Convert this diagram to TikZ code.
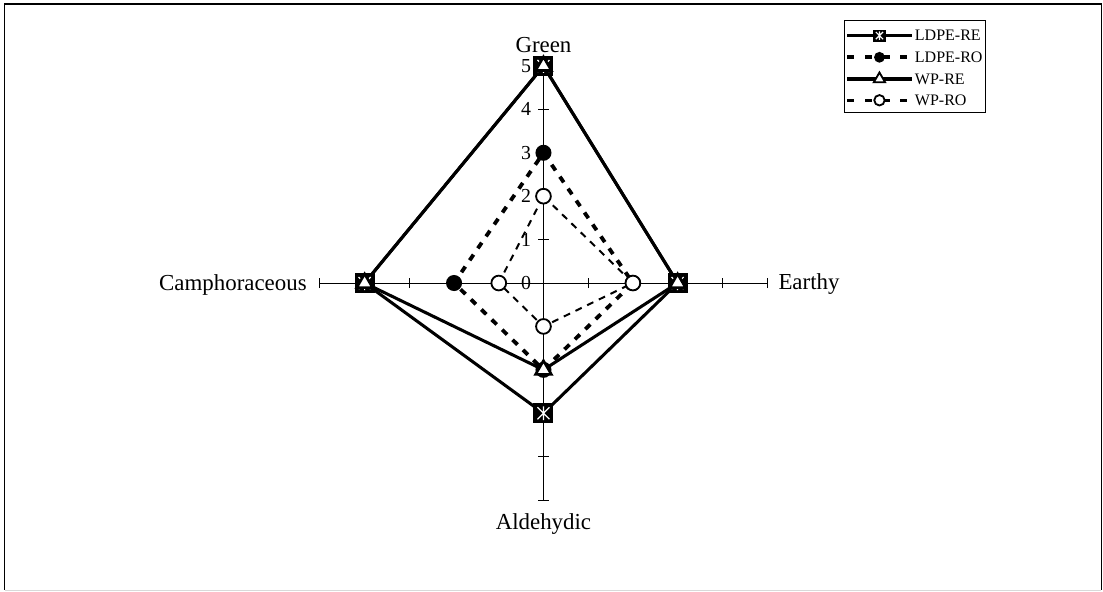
\documentclass[tikz,border=0pt]{standalone}
\usepackage{fontspec}
\setmainfont{Liberation Serif}
\usetikzlibrary{shapes.geometric,calc,positioning}

\begin{document}
\begin{tikzpicture}[
    axis/.style={line width=0.6pt},
    re/.style={line width=2pt},
    ldro/.style={line width=2.5pt, dash pattern=on 4.5pt off 5pt},
    wpro/.style={line width=1.3pt, dash pattern=on 4.5pt off 4pt},
    lab/.style={inner sep=0pt, font=\fontsize{15}{17}\selectfont},
    num/.style={inner sep=0pt, font=\fontsize{13}{15}\selectfont},
    leg/.style={inner sep=0pt, font=\fontsize{10.5}{12}\selectfont},
    sqmark/.style={rectangle, fill=black, inner sep=0pt, minimum size=#1,
        path picture={
            \draw[white, line width=0.8pt]
              ($(path picture bounding box.south west)!0.2!(path picture bounding box.north east)$) --
              ($(path picture bounding box.south west)!0.8!(path picture bounding box.north east)$)
              ($(path picture bounding box.north west)!0.2!(path picture bounding box.south east)$) --
              ($(path picture bounding box.north west)!0.8!(path picture bounding box.south east)$)
              ($(path picture bounding box.south)!0.15!(path picture bounding box.north)$) --
              ($(path picture bounding box.south)!0.85!(path picture bounding box.north)$);
        }},
    sqmark/.default=0.46cm,
    dotmark/.style={circle, fill=black, inner sep=0pt, minimum size=#1},
    dotmark/.default=0.37cm,
    trimark/.style={regular polygon, regular polygon sides=3, draw, fill=white,
        line width=1.7pt, inner sep=0pt, minimum size=#1},
    trimark/.default=0.42cm,
    ringmark/.style={circle, draw, fill=white, line width=1.2pt, inner sep=0pt, minimum size=#1},
    ringmark/.default=0.34cm
]
    \useasboundingbox (-12.52,-7.097) rectangle (12.89,6.52);

    % Frame
    \draw[line width=0.8pt] (-12.41,-7.07) -- (-12.41,6.43) -- (12.85,6.43) -- (12.85,-7.07);
    \draw[gray!30] (-12.41,-7.07) -- (12.85,-7.07);

    \begin{scope}[x=1.03cm]
    % Axes and ticks
    \draw[axis] (-5,0) -- (5,0);
    \draw[axis] (0,-5) -- (0,5);
    \foreach \i in {1,...,5} {
        \draw[axis] (\i,-0.12) -- (\i,0.12);
        \draw[axis] (-\i,-0.12) -- (-\i,0.12);
        \draw[axis] (-0.12,\i) -- (0.12,\i);
        \draw[axis] (-0.12,-\i) -- (0.12,-\i);
    }
    \foreach \i in {0,...,5}
        \node[num, anchor=east] (n\i) at (-0.27,\i) {\i};

    % Axis labels
    \node[lab, anchor=base] (green) at (0,5.30) {Green};
    \node[lab, anchor=base west] (earthy) at (5.25,-0.14) {Earthy};
    \node[lab, anchor=base] (aldehydic) at (0,-5.67) {Aldehydic};
    \node[lab, anchor=base east] (camph) at (-5.29,-0.18) {Camphoraceous};

    % Data points
    \coordinate (ldre-g) at (0,5);  \coordinate (ldre-e) at (3,0);
    \coordinate (ldre-a) at (0,-3); \coordinate (ldre-c) at (-4,0);
    \coordinate (ldro-g) at (0,3);  \coordinate (ldro-e) at (2,0);
    \coordinate (ldro-a) at (0,-2); \coordinate (ldro-c) at (-2,0);
    \coordinate (wpre-g) at (0,5);  \coordinate (wpre-e) at (3,0);
    \coordinate (wpre-a) at (0,-2); \coordinate (wpre-c) at (-4,0);
    \coordinate (wpro-g) at (0,2);  \coordinate (wpro-e) at (2,0);
    \coordinate (wpro-a) at (0,-1); \coordinate (wpro-c) at (-1,0);

    % Series
    \draw[re] (ldre-g) -- (ldre-e) -- (ldre-a) -- (ldre-c) -- cycle;
    \draw[ldro] (ldro-g) -- (ldro-e) -- (ldro-a) -- (ldro-c) -- cycle;
    \draw[re] (wpre-g) -- (wpre-e) -- (wpre-a) -- (wpre-c) -- cycle;
    \draw[wpro] (wpro-g) -- (wpro-e) -- (wpro-a) -- (wpro-c) -- cycle;

    % Markers
    \foreach \p in {g,e,a,c} \node[sqmark] (m-ldre-\p) at (ldre-\p) {};
    \foreach \p in {g,e,a,c} \node[dotmark] (m-ldro-\p) at (ldro-\p) {};
    \foreach \p in {g,e,a,c} \node[trimark] (m-wpre-\p) at (wpre-\p) {};
    \foreach \p in {g,e,a,c} \node[ringmark] (m-wpro-\p) at (wpro-\p) {};
    \end{scope}

    % Legend
    \node[draw, line width=0.6pt, minimum width=3.24cm, minimum height=2.12cm] (legend) at (8.56,5.0) {};
    \coordinate (k1a) at (7.00,5.70); \coordinate (k1b) at (8.48,5.70);
    \coordinate (k2a) at (7.00,5.20); \coordinate (k2b) at (8.48,5.20);
    \coordinate (k3a) at (7.00,4.70); \coordinate (k3b) at (8.48,4.70);
    \coordinate (k4a) at (7.00,4.21); \coordinate (k4b) at (8.48,4.21);
    \draw[re] (k1a) -- (k1b);
    \draw[ldro, dash pattern=on 4.6pt off 7pt] (k2a) -- (k2b);
    \draw[re] (k3a) -- (k3b);
    \draw[wpro, line width=2pt, dash pattern=on 4.6pt off 7pt] (k4a) -- (k4b);
    \node[sqmark=0.28cm] (k1m) at ($(k1a)!0.5!(k1b)$) {};
    \node[dotmark=0.25cm] (k2m) at ($(k2a)!0.5!(k2b)$) {};
    \node[trimark=0.30cm, line width=1.2pt] (k3m) at ($(k3a)!0.5!(k3b)$) {};
    \node[ringmark=0.24cm] (k4m) at ($(k4a)!0.5!(k4b)$) {};
    \node[leg, right=0.07cm of k1b] (k1t) {LDPE-RE};
    \node[leg, right=0.07cm of k2b] (k2t) {LDPE-RO};
    \node[leg, right=0.07cm of k3b] (k3t) {WP-RE};
    \node[leg, right=0.07cm of k4b] (k4t) {WP-RO};
\end{tikzpicture}
\end{document}
